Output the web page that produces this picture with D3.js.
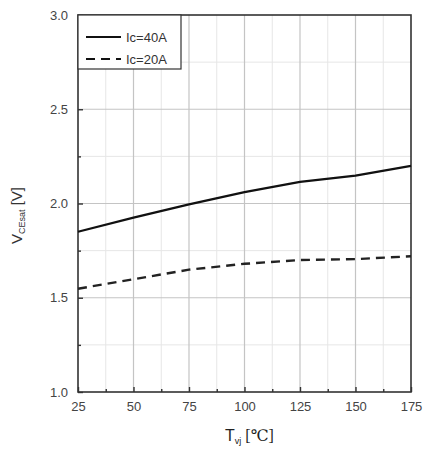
<!DOCTYPE html>
<html>
<head>
<meta charset="utf-8">
<script src="https://cdn.jsdelivr.net/npm/d3@7"></script>
<style>
  body { margin: 0; background: #fff; }
  svg { display: block; font-family: Arial, "Liberation Sans", sans-serif; }
</style>
</head>
<body>
<div id="chart"></div>
<script>
// Data
const temps = [25, 50, 75, 100, 125, 150, 175];
const vce40 = [1.85, 1.925, 1.995, 2.06, 2.115, 2.148, 2.2];
const vce20 = [1.548, 1.598, 1.649, 1.68, 1.70, 1.705, 1.72];
const xTicks = [25, 50, 75, 100, 125, 150, 175];
const yTicks = [1.0, 1.5, 2.0, 2.5, 3.0];
const seriesNames = ["Ic=40A", "Ic=20A"];

const width = 423, height = 454;
const margin = { top: 15, right: 12, bottom: 62, left: 78 };
const innerW = width - margin.left - margin.right;
const innerH = height - margin.top - margin.bottom;

const svg = d3.select("#chart")
  .append("svg")
  .attr("width", width)
  .attr("height", height);

const g = svg.append("g")
  .attr("transform", "translate(" + margin.left + "," + margin.top + ")");

// Scales
const x = d3.scaleLinear().domain([25, 175]).range([0, innerW]);
const y = d3.scaleLinear().domain([1.0, 3.0]).range([innerH, 0]);

// Minor grid
const xMinor = d3.range(25 + 12.5, 175, 25);
const yMinor = d3.range(1.25, 3.0, 0.5);
g.append("g").selectAll("line")
  .data(xMinor)
  .enter().append("line")
  .attr("x1", d => x(d)).attr("x2", d => x(d))
  .attr("y1", 0).attr("y2", innerH)
  .attr("stroke", "#e6e6e6").attr("stroke-width", 1);
g.append("g").selectAll("line")
  .data(yMinor)
  .enter().append("line")
  .attr("y1", d => y(d)).attr("y2", d => y(d))
  .attr("x1", 0).attr("x2", innerW)
  .attr("stroke", "#e6e6e6").attr("stroke-width", 1);

// Major grid
g.append("g").selectAll("line")
  .data(xTicks.slice(1, -1))
  .enter().append("line")
  .attr("x1", d => x(d)).attr("x2", d => x(d))
  .attr("y1", 0).attr("y2", innerH)
  .attr("stroke", "#c4c4c4").attr("stroke-width", 1.2);
g.append("g").selectAll("line")
  .data(yTicks.slice(1, -1))
  .enter().append("line")
  .attr("y1", d => y(d)).attr("y2", d => y(d))
  .attr("x1", 0).attr("x2", innerW)
  .attr("stroke", "#c4c4c4").attr("stroke-width", 1.2);

// Frame
g.append("rect")
  .attr("width", innerW).attr("height", innerH)
  .attr("fill", "none").attr("stroke", "#333").attr("stroke-width", 1.6);

// Axes (ticks pointing inward)
const xAxis = g.append("g")
  .attr("transform", "translate(0," + innerH + ")")
  .call(d3.axisBottom(x).tickValues(xTicks).tickSize(-5).tickPadding(10).tickFormat(d3.format("d")));
const xAxisMinor = g.append("g")
  .attr("transform", "translate(0," + innerH + ")")
  .call(d3.axisBottom(x).tickValues(xMinor).tickSize(-3).tickFormat(""));
const yAxis = g.append("g")
  .call(d3.axisLeft(y).tickValues(yTicks).tickSize(-5).tickPadding(10).tickFormat(d3.format(".1f")));
const yAxisMinor = g.append("g")
  .call(d3.axisLeft(y).tickValues(yMinor).tickSize(-3).tickFormat(""));

[xAxis, xAxisMinor, yAxis, yAxisMinor].forEach(a => {
  a.select(".domain").remove();
  a.selectAll(".tick line").attr("stroke", "#333").attr("stroke-width", 1.4);
  a.selectAll("text").attr("fill", "#444").style("font-size", "13px");
});

// Lines
const line = d3.line()
  .x((d, i) => x(temps[i]))
  .y(d => y(d));

g.append("path")
  .datum(vce40)
  .attr("d", line)
  .attr("fill", "none")
  .attr("stroke", "#111")
  .attr("stroke-width", 2.2)
  .attr("stroke-linejoin", "round");

g.append("path")
  .datum(vce20)
  .attr("d", line)
  .attr("fill", "none")
  .attr("stroke", "#222")
  .attr("stroke-width", 2.4)
  .attr("stroke-dasharray", "9,6");

// Legend
const legend = g.append("g");
legend.append("rect")
  .attr("x", 0).attr("y", 0)
  .attr("width", 103).attr("height", 54)
  .attr("fill", "#fff").attr("stroke", "#333").attr("stroke-width", 1.2);
const dashes = ["none", "9,6"];
seriesNames.forEach((name, i) => {
  const ly = 22 + i * 22;
  legend.append("line")
    .attr("x1", 8).attr("x2", 43)
    .attr("y1", ly).attr("y2", ly)
    .attr("stroke", "#111").attr("stroke-width", 2.2)
    .attr("stroke-dasharray", dashes[i]);
  legend.append("text")
    .attr("x", 48).attr("y", ly)
    .attr("dy", "0.35em")
    .attr("fill", "#333")
    .style("font-size", "13px")
    .text(name);
});

// Axis titles
const yLabel = svg.append("text")
  .attr("transform", "translate(22," + (margin.top + innerH / 2 + 12) + ") rotate(-90)")
  .attr("text-anchor", "middle")
  .attr("fill", "#333")
  .style("font-size", "15px");
yLabel.append("tspan").text("V");
yLabel.append("tspan").attr("dy", 3).style("font-size", "9px").text("CEsat");
yLabel.append("tspan").attr("dy", -3).text(" [V]");

const xLabel = svg.append("text")
  .attr("x", margin.left + innerW / 2 + 5)
  .attr("y", 441)
  .attr("text-anchor", "middle")
  .attr("fill", "#222")
  .style("font-size", "16px");
xLabel.append("tspan").style("font-family", "Arial, sans-serif").text("T");
xLabel.append("tspan").attr("dy", 3).style("font-size", "9px").style("font-family", "Arial, sans-serif").text("vj");
xLabel.append("tspan").attr("dy", -3).style("font-family", "'Liberation Serif', 'DejaVu Serif', serif").text(" [℃]");
</script>
</body>
</html>
